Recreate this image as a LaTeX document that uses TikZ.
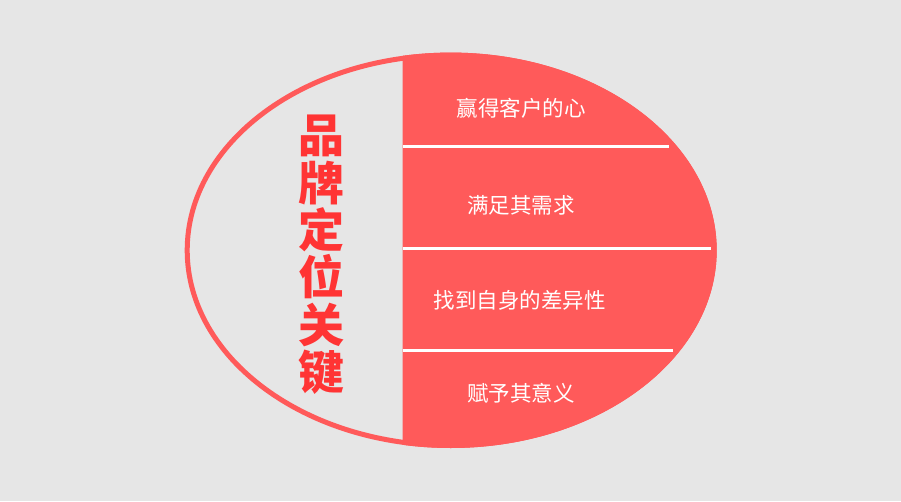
\documentclass[tikz,border=0pt]{standalone}
\usepackage{fontspec}
\setmainfont{Noto Sans CJK SC}
\usepackage{tikz}
\usetikzlibrary{calc}
\begin{document}
\begin{tikzpicture}[line cap=round,line join=round,x=1pt,y=1pt]
\definecolor{ewewew}{rgb}{0.9019607843137255,0.9019607843137255,0.9019607843137255}
\definecolor{ffvava}{rgb}{1.,0.35294117647058826,0.35294117647058826}
\definecolor{fftutu}{rgb}{1.,0.20392156862745098,0.20392156862745098}
\fill[color=ewewew] (0.,0.) rectangle (901.,501.);
\useasboundingbox (0.,0.) rectangle (901.,501.);
\coordinate (c) at (450.7,250.7);
\draw [line width=5pt,color=ffvava,fill=ewewew] (c) ellipse [x radius=263.5, y radius=195.2];
\begin{scope}
\clip (402.5,0.) rectangle (901.,501.);
\fill[color=ffvava] (c) ellipse [x radius=266., y radius=197.7];
\end{scope}
\draw [line width=2.8pt,color=white,line cap=butt] (402.5,354.5)-- (669.,354.5);
\draw [line width=2.8pt,color=white,line cap=butt] (402.5,252.3)-- (710.7,252.3);
\draw [line width=2.8pt,color=white,line cap=butt] (402.5,150.3)-- (672.7,150.3);
\node[color=fftutu,align=center,font=\fontsize{46}{47.4}\selectfont\bfseries] (title) at (321.,246.) {品\\牌\\定\\位\\关\\键};
\begin{scope}[every node/.style={color=white,font=\fontsize{21.5}{24}\selectfont}]
\node (heart) at (521.,393.) {赢得客户的心};
\node (needs) at (521.,296.) {满足其需求};
\node (diff) at (519.5,201.) {找到自身的差异性};
\node (meaning) at (521.,108.) {赋予其意义};
\end{scope}
\end{tikzpicture}
\end{document}
